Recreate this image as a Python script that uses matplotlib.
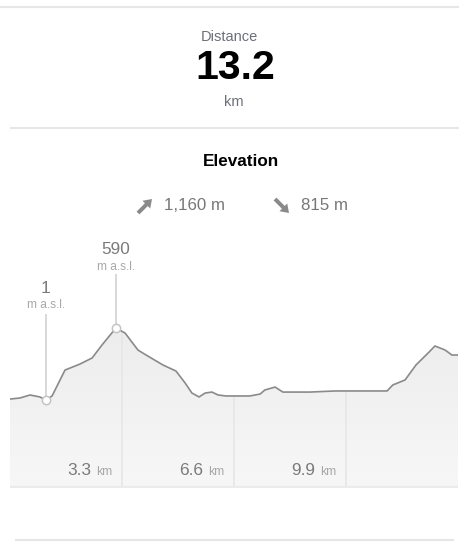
import numpy as np
import matplotlib
matplotlib.use("Agg")
import matplotlib.pyplot as plt
from matplotlib.colors import LinearSegmentedColormap
from matplotlib.patches import FancyArrow

plt.rcParams['font.family'] = ['Liberation Sans', 'DejaVu Sans']

# route summary
distance_km = "13.2"
ascent = "1,160 m"
descent = "815 m"

# elevation profile (km, m a.s.l.)
dist = [0.0, 0.29, 0.59, 0.88, 1.06, 1.24, 1.62, 2.06, 2.42, 2.71, 3.12, 3.39,
        3.77, 4.01, 4.51, 4.89, 5.16, 5.36, 5.57, 5.75, 5.95, 6.13, 6.36, 7.07,
        7.37, 7.51, 7.81, 8.04, 8.84, 9.58, 11.11, 11.28, 11.64, 11.79, 11.96,
        12.35, 12.52, 12.82, 13.02, 13.2]
elev = [9, 17, 42, 26, 1, 34, 246, 295, 345, 451, 590, 549,
        410, 369, 287, 238, 140, 58, 26, 58, 66, 42, 34, 34,
        50, 83, 107, 66, 66, 75, 75, 124, 165, 222, 287,
        394, 443, 410, 369, 369]
km_ticks = [3.3, 6.6, 9.9]
tick_labels = ["3.3", "6.6", "9.9"]

W, H = 460, 542
fig = plt.figure(figsize=(W / 100, H / 100), dpi=100)

# background axes in pixel coordinates for the card decorations
bg = fig.add_axes([0, 0, 1, 1])
bg.set_xlim(0, W)
bg.set_ylim(H, 0)
bg.set_axis_off()

sep = "#e6e6e6"
bg.plot([0, W], [7, 7], color=sep, lw=1.5)
bg.plot([11, W], [128, 128], color=sep, lw=1.5)
bg.plot([16, 453], [540, 540], color=sep, lw=1.5)

slate = "#6b7078"
bg.text(229, 37, "Distance", ha="center", va="center", fontsize=10.5, color=slate)
bg.text(235, 68, distance_km, ha="center", va="center", fontsize=29.5,
        fontweight="bold", color="black")
bg.text(234, 102, "km", ha="center", va="center", fontsize=10.5, color=slate)
bg.text(241, 161, "Elevation", ha="center", va="center", fontsize=12.3,
        fontweight="bold", color="black")

grey = "#8a8a8a"
bg.add_patch(FancyArrow(138, 213, 14, -14, width=4, head_width=11, head_length=8,
                        length_includes_head=True, color=grey, lw=0))
bg.add_patch(FancyArrow(275, 199, 14, 14, width=4, head_width=11, head_length=8,
                        length_includes_head=True, color=grey, lw=0))
bg.text(164, 206, ascent, ha="left", va="center", fontsize=12.2, color="#777777")
bg.text(301, 206, descent, ha="left", va="center", fontsize=12.2, color="#777777")

# elevation chart
top_px, bot_px = 230, 488
ax = fig.add_axes([10 / W, (H - bot_px) / H, 448 / W, (bot_px - top_px) / H])
y_lo, y_hi = -719, 1392
ax.set_xlim(0, 13.2)
ax.set_ylim(y_lo, y_hi)
ax.set_axis_off()
m_per_px = (y_hi - y_lo) / (bot_px - top_px)

x = np.array(dist)
y = np.array(elev)

poly = ax.fill_between(x, y, y_lo, facecolor="none", edgecolor="none")
cmap = LinearSegmentedColormap.from_list("g", ["#f7f7f7", "#ededed"])
grad = np.linspace(0, 1, 256).reshape(-1, 1)
img = ax.imshow(grad, extent=[0, 13.2, y_lo, y.max()], origin="lower",
                aspect="auto", cmap=cmap, zorder=1)
img.set_clip_path(poly.get_paths()[0], transform=ax.transData)

ax.vlines(km_ticks, y_lo, np.interp(km_ticks, x, y), color="#e6e6e6", lw=1.2, zorder=2)
ax.axhline(y_lo + 1.2 * m_per_px, color="#ebebeb", lw=1.6, zorder=2)
ax.plot(x, y, color=grey, lw=1.2, zorder=3)

for k, lab in zip(km_ticks, tick_labels):
    ax.annotate("km", (k, 0), xycoords=("data", "axes fraction"),
                xytext=(-10, 13), textcoords="offset pixels", ha="right",
                va="baseline", fontsize=8.7, color="#a8a8a8")
    ax.annotate(lab, (k, 0), xycoords=("data", "axes fraction"),
                xytext=(-31, 13), textcoords="offset pixels", ha="right",
                va="baseline", fontsize=12.4, color="#7a7a7a")

# min / max markers
i_min, i_max = int(np.argmin(y)), int(np.argmax(y))
for i, line_px, val_px, unit_px in [(i_min, 86, 112, 95), (i_max, 54, 79, 61)]:
    ax.vlines(x[i], y[i], y[i] + line_px * m_per_px, color="#d2d2d2", lw=1.2, zorder=4)
    ax.plot(x[i], y[i], "o", ms=6, mfc="white", mec="#c4c4c4", mew=1.1, zorder=5)
    ax.annotate(f"{y[i]}", (x[i], y[i]), xytext=(0, val_px), textcoords="offset pixels",
                ha="center", va="center", fontsize=12.4, color="#7a7a7a", annotation_clip=False)
    ax.annotate("m a.s.l.", (x[i], y[i]), xytext=(0, unit_px), textcoords="offset pixels",
                ha="center", va="center", fontsize=8.6, color="#a8a8a8", annotation_clip=False)

fig.savefig("out.png", dpi=100)
